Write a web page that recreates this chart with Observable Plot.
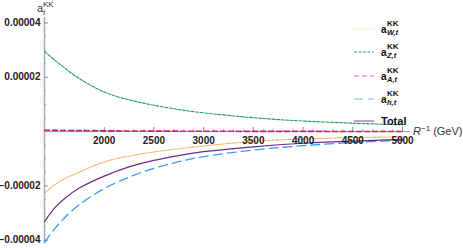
<!DOCTYPE html>
<html>
<head>
<meta charset="utf-8">
<script src="https://cdn.jsdelivr.net/npm/d3@7"></script>
<script src="https://cdn.jsdelivr.net/npm/@observablehq/plot@0.6"></script>
<style>
  html, body { margin: 0; padding: 0; background: #fff; }
  #chart { position: relative; width: 463px; height: 248px; }
</style>
</head>
<body>
<div id="chart"></div>
<script>
// Inverse compactification radius R^-1 in GeV
const energies = [1400, 1500, 1600, 1750, 2000, 2250, 2500, 2750, 3000, 3500, 4000, 4500, 5000];
const UNIT = 1e-6; // series values below are in units of 1e-6
const seriesW = [-22.6, -19.6, -17.4, -14.9, -11.2, -9.0, -7.5, -6.3, -5.3, -3.6, -2.7, -2.2, -1.9];
const seriesZ = [29.5, 26.4, 23.5, 19.5, 14.6, 11.7, 9.7, 8.1, 6.9, 5.1, 3.9, 3.1, 2.5];
const seriesA = [0.5, 0.45, 0.4, 0.35, 0.28, 0.22, 0.18, 0.15, 0.12, 0.09, 0.07, 0.05, 0.04];
const seriesH = [-40.8, -35.9, -31.8, -26.9, -21.0, -16.8, -13.5, -11.1, -9.2, -6.8, -5.2, -4.0, -3.2];
const seriesTotal = [-33.2, -28.2, -24.7, -20.8, -16.4, -13.0, -10.6, -8.8, -7.4, -5.6, -4.3, -3.5, -2.9];

const yTicks = [-0.00004, -0.00002, 0.00002, 0.00004];
const yTickLabels = ["\u22120.00004", "\u22120.00002", "0.00002", "0.00004"];
const xTicks = [2000, 2500, 3000, 3500, 4000, 4500, 5000];
const xTickLabels = ["2000", "2500", "3000", "3500", "4000", "4500", "5000"];

const seriesNames = ["W", "Z", "A", "h", "Total"];
const legendSubs = ["W,t", "Z,t", "A,t", "h,t", null];
const colors = ["#f2a444", "#1f9e5c", "#c2226a", "#3a9af0", "#6b2c84"];
const legendColors = ["#f6c99a", "#2aa866", "#ffa6d6", "#7ab8f5", "#8a5a9e"];
const dashes = ["1,1.5", "3,1.5", "5,3", "9,5", null];
const widths = [1.1, 1.1, 1.6, 1.3, 1.2];

const allSeries = [seriesW, seriesZ, seriesA, seriesH, seriesTotal];
const table = allSeries.map((vals, k) => vals.map((v, i) => ({ x: energies[i], y: v * UNIT, s: seriesNames[k] })));

const minorY = d3.range(-0.00004, 0.0000401, 0.000005).filter(v => Math.abs(v) > 1e-9 && !yTicks.some(t => Math.abs(t - v) < 1e-9));
const minorX = d3.range(1500, 5001, 100).filter(v => !xTicks.includes(v));

const lineMarks = table.map((rows, k) => Plot.line(rows, {
  x: "x", y: "y", stroke: colors[k], strokeWidth: widths[k],
  strokeDasharray: dashes[k] || undefined, curve: "natural"
}));

const plot = Plot.plot({
  width: 463, height: 248,
  marginLeft: 44, marginRight: 53, marginTop: 17, marginBottom: 5,
  x: { domain: [1400, 5080], axis: null },
  y: { domain: [-0.0000412, 0.000042], axis: null },
  style: { fontFamily: "'Liberation Sans', Arial, sans-serif", background: "white" },
  marks: [
    Plot.ruleY([0], { stroke: "#9a9a9a", strokeWidth: 1 }),
    Plot.ruleX([1400], { stroke: "#b0b0b0", strokeWidth: 1.6 }),
    Plot.ruleY(yTicks, { x1: 1400, x2: 1440, stroke: "#888", strokeWidth: 1 }),
    Plot.ruleY(minorY, { x1: 1400, x2: 1420, stroke: "#999", strokeWidth: 0.8 }),
    Plot.ruleX(xTicks, { y1: 0, y2: 0.0000015, stroke: "#888", strokeWidth: 1 }),
    Plot.ruleX(minorX, { y1: 0, y2: 0.0000008, stroke: "#999", strokeWidth: 0.8 }),
    ...lineMarks,
    Plot.text(yTicks, { x: 1400, y: d => d, text: (d, i) => yTickLabels[i], dx: -4, textAnchor: "end", fontWeight: "bold", fontSize: 10, fill: "#222" }),
    Plot.text(xTicks, { x: d => d, y: 0, text: (d, i) => xTickLabels[i], dy: 9, textAnchor: "middle", fontWeight: "bold", fontSize: 10, fill: "#222" })
  ]
});

document.getElementById("chart").appendChild(plot);

const svg = d3.select(plot);
const xs = plot.scale("x"), ys = plot.scale("y");
const font = "'Liberation Sans', Arial, sans-serif";

// x-axis label R^-1 (GeV)
const xl = svg.append("text").attr("text-anchor", "start").attr("x", xs.apply(5080) + 3).attr("y", ys.apply(0) + 4)
  .attr("font-family", font).attr("font-size", 11).attr("fill", "#333");
xl.append("tspan").attr("font-style", "italic").text("R");
xl.append("tspan").attr("font-size", 8).attr("dy", -4).text("\u22121");
xl.append("tspan").attr("dy", 4).text(" (GeV)");

// y-axis label a_t^KK
const yx = xs.apply(1400) - 7, yy = 12;
const ylab = svg.append("g").attr("text-anchor", "start").attr("font-family", font).attr("fill", "#333");
ylab.append("text").attr("x", yx).attr("y", yy).attr("font-size", 11).text("a");
ylab.append("text").attr("x", yx + 6).attr("y", yy - 5).attr("font-size", 8).text("KK");
ylab.append("text").attr("x", yx + 6).attr("y", yy + 3).attr("font-size", 8).attr("font-style", "italic").text("t");

// legend
const legY = [29, 52, 76, 99, 121];
const lg = svg.append("g").attr("text-anchor", "start").attr("font-family", font).attr("fill", "#111");
seriesNames.forEach((name, k) => {
  const yc = legY[k];
  lg.append("line").attr("x1", 354).attr("x2", 374).attr("y1", yc).attr("y2", yc)
    .attr("stroke", legendColors[k]).attr("stroke-width", k === 2 ? 2 : 1.1)
    .attr("stroke-dasharray", dashes[k] || null);
  if (legendSubs[k]) {
    lg.append("text").attr("x", 381).attr("y", yc + 3.5).attr("font-size", 10).attr("font-weight", "bold").text("a");
    lg.append("text").attr("x", 387).attr("y", yc - 3).attr("font-size", 8).attr("font-weight", "bold").text("KK");
    lg.append("text").attr("x", 387).attr("y", yc + 5.5).attr("font-size", 7.5).attr("font-weight", "bold").attr("font-style", "italic").text(legendSubs[k]);
  } else {
    lg.append("text").attr("x", 381).attr("y", yc + 4).attr("font-size", 11).attr("font-weight", "bold").text("Total");
  }
});
</script>
</body>
</html>
